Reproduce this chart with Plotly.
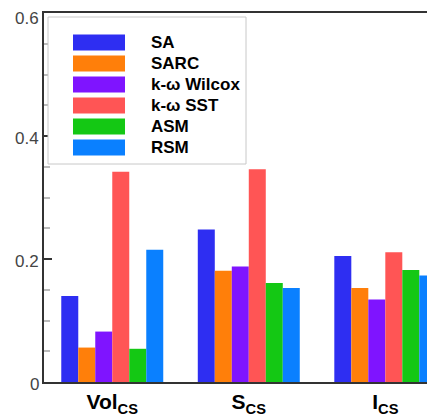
import plotly.graph_objects as go

categories = ["Vol<sub>CS</sub>", "S<sub>CS</sub>", "I<sub>CS</sub>"]
series_names = ["SA", "SARC", "k-ω Wilcox", "k-ω SST", "ASM", "RSM"]
sa = [0.140, 0.248, 0.205]
sarc = [0.056, 0.181, 0.153]
wilcox = [0.082, 0.188, 0.134]
sst = [0.342, 0.346, 0.211]
asm = [0.054, 0.161, 0.182]
rsm = [0.215, 0.153, 0.173]
y_ticks = [0, 0.2, 0.4, 0.6]
y_tick_labels = ["0", "0.2", "0.4", "0.6"]

series_values = [sa, sarc, wilcox, sst, asm, rsm]
colors = ["#2e2ef2", "#ff7f0a", "#7f14ff", "#ff5555", "#14c814", "#0a80ff"]

# the page body adds an 8px offset; target coordinates below are window pixels
OFF = 8
WIN_W, WIN_H = 435, 420
W, H = WIN_W - OFF, WIN_H - OFF
PL, PR, PT, PB = 44, 435, 13, 382  # plot area edges in window pixels
ML, MR, MT, MB = PL - OFF, WIN_W - PR, PT - OFF, WIN_H - PB
PW, PH = W - ML - MR, H - MT - MB

fig = go.Figure()
for name, vals, col in zip(series_names, series_values, colors):
    fig.add_trace(go.Bar(x=categories, y=vals, name=name, marker_color=col,
                         marker_line_width=0, showlegend=False))

def px_x(p):
    return (p - PL) / PW

def px_y(p):
    return (PB - p) / PH

shapes = [dict(type="rect", xref="paper", yref="paper",
               x0=px_x(48), x1=px_x(246), y0=px_y(164), y1=px_y(17),
               line=dict(color="#c8c8c8", width=1), fillcolor="white", layer="above")]
annotations = []
for i, (name, col) in enumerate(zip(series_names, colors)):
    cy = 42.5 + 21 * i
    shapes.append(dict(type="rect", xref="paper", yref="paper",
                       x0=px_x(73), x1=px_x(125), y0=px_y(cy + 8), y1=px_y(cy - 8),
                       line=dict(width=0), fillcolor=col, layer="above"))
    annotations.append(dict(xref="paper", yref="paper", x=px_x(149), y=px_y(cy),
                            xanchor="left", yanchor="middle", showarrow=False,
                            text="<b>" + name + "</b>",
                            font=dict(family="Liberation Sans, Arial", size=17, color="black")))

# y tick labels as text placed through the y scale
y_top = max(y_ticks)
for v, lab in zip(y_ticks, y_tick_labels):
    at_top = v == y_top
    annotations.append(dict(xref="paper", yref="y", x=px_x(40), y=v,
                            xanchor="right", yanchor="top" if at_top else "middle",
                            showarrow=False, text=lab, yshift=(MT) if at_top else -2,
                            borderpad=0,
                            font=dict(family="Liberation Sans, Arial", size=17, color="#444")))

fig.update_layout(
    width=W, height=H,
    margin=dict(l=ML, r=MR, t=MT, b=MB, pad=0, autoexpand=False),
    paper_bgcolor="white", plot_bgcolor="white",
    barmode="group", bargap=0.253, bargroupgap=0,
    shapes=shapes, annotations=annotations,
    font=dict(family="Liberation Sans, Arial", color="#222"),
)
fig.update_xaxes(range=[-0.5, 2.364], showline=True, linecolor="#333", linewidth=2,
                 mirror=True, ticks="", showgrid=False, zeroline=False, automargin=False,
                 tickfont=dict(size=21, color="black", family="Liberation Sans, Arial", weight="bold"))
fig.update_yaxes(range=[0, 0.6], showline=True, linecolor="#333", linewidth=2,
                 tickvals=y_ticks, ticks="inside", ticklen=8, showticklabels=False,
                 tickcolor="#333", tickwidth=1.5, showgrid=False, zeroline=False, automargin=False,
                 minor=dict(dtick=0.05, ticks="inside", ticklen=6, tickcolor="#bbb", showgrid=False))

fig.write_html("out.html")
